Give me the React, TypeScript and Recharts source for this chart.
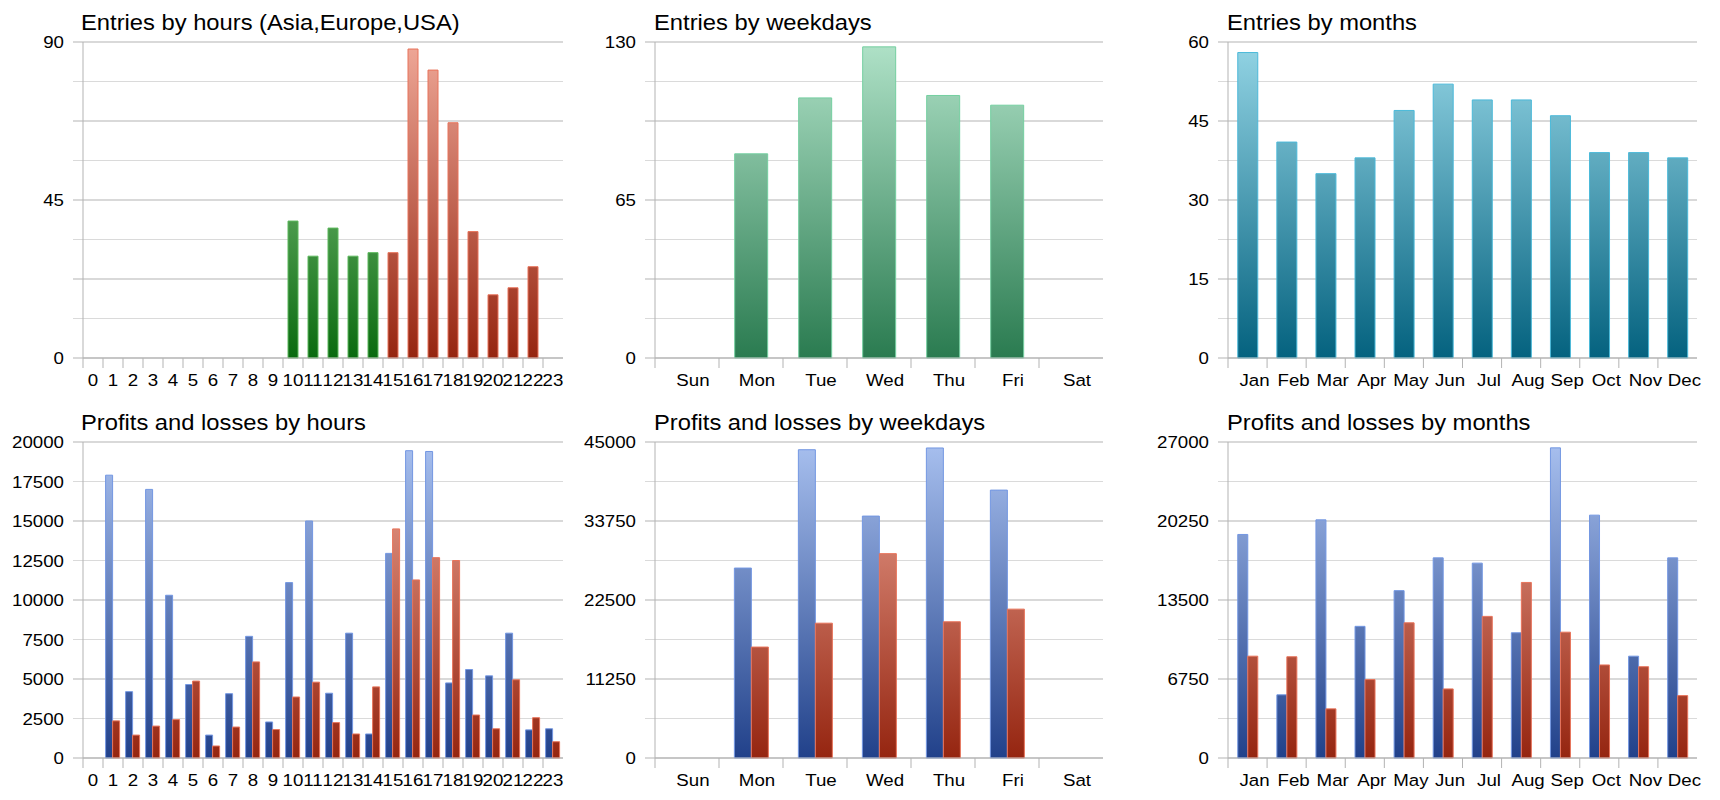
import React from 'react';
import { BarChart, Bar, XAxis, YAxis, CartesianGrid, Cell } from 'recharts';

// ---------- data ----------
const hours = ['0', '1', '2', '3', '4', '5', '6', '7', '8', '9', '10', '11', '12', '13', '14', '15', '16', '17', '18', '19', '20', '21', '22', '23'];
const hourRegion = ['Asia', 'Asia', 'Asia', 'Asia', 'Asia', 'Asia', 'Asia', 'Asia', 'Asia', 'Asia', 'Europe', 'Europe', 'Europe', 'Europe', 'Europe', 'USA', 'USA', 'USA', 'USA', 'USA', 'USA', 'USA', 'USA', 'USA'];
const entriesByHour = [0, 0, 0, 0, 0, 0, 0, 0, 0, 0, 39, 29, 37, 29, 30, 30, 88, 82, 67, 36, 18, 20, 26, 0];

const weekdays = ['Sun', 'Mon', 'Tue', 'Wed', 'Thu', 'Fri', 'Sat'];
const entriesByWeekday = [0, 84, 107, 128, 108, 104, 0];

const months = ['Jan', 'Feb', 'Mar', 'Apr', 'May', 'Jun', 'Jul', 'Aug', 'Sep', 'Oct', 'Nov', 'Dec'];
const entriesByMonth = [58, 41, 35, 38, 47, 52, 49, 49, 46, 39, 39, 38];

const profitsByHour = [0, 17900, 4200, 17000, 10300, 4650, 1450, 4070, 7700, 2280, 11100, 15000, 4100, 7900, 1520, 12950, 19450, 19400, 4750, 5600, 5200, 7900, 1780, 1850];
const lossesByHour = [0, 2350, 1450, 2020, 2430, 4870, 760, 1960, 6080, 1800, 3860, 4800, 2240, 1520, 4500, 14500, 11270, 12680, 12500, 2720, 1850, 4950, 2550, 1030];

const profitsByWeekday = [0, 27050, 43900, 34450, 44150, 38150, 0];
const lossesByWeekday = [0, 15800, 19200, 29100, 19400, 21200, 0];

const profitsByMonth = [19100, 5400, 20350, 11250, 14300, 17100, 16650, 10700, 26500, 20750, 8700, 17100];
const lossesByMonth = [8700, 8650, 4200, 6700, 11550, 5900, 12100, 15000, 10750, 7950, 7800, 5330];

// ---------- axis ticks ----------
const hourEntryTicks = [0, 11.25, 22.5, 33.75, 45, 56.25, 67.5, 78.75, 90];
const hourEntryLabels = [0, 45, 90];
const weekdayEntryTicks = [0, 16.25, 32.5, 48.75, 65, 81.25, 97.5, 113.75, 130];
const weekdayEntryLabels = [0, 65, 130];
const monthEntryTicks = [0, 7.5, 15, 22.5, 30, 37.5, 45, 52.5, 60];
const monthEntryLabels = [0, 15, 30, 45, 60];
const hourPLTicks = [0, 2500, 5000, 7500, 10000, 12500, 15000, 17500, 20000];
const hourPLLabels = [0, 2500, 5000, 7500, 10000, 12500, 15000, 17500, 20000];
const weekdayPLTicks = [0, 5625, 11250, 16875, 22500, 28125, 33750, 39375, 45000];
const weekdayPLLabels = [0, 11250, 22500, 33750, 45000];
const monthPLTicks = [0, 3375, 6750, 10125, 13500, 16875, 20250, 23625, 27000];
const monthPLLabels = [0, 6750, 13500, 20250, 27000];

// ---------- styling ----------
const FONT = '"Liberation Sans", Arial, Helvetica, sans-serif';
const SVG_H = 400;
const PLOT_TOP = 42;
const PLOT_H = 316;
const XAXIS_H = 30;
const YAXIS_W = 70;
const AXIS_COLOR = '#b3b3b3';
const MINOR_COLOR = '#dadada';
const TICK_FS = 17;
const TICK_SX = 1.1;
const TITLE_FS = 22;
const TITLE_SX = 1.08;

type Grad = { top: string; bottom: string; stroke: string };
const GREEN_H: Grad = { top: '#a0d99b', bottom: '#0a6a10', stroke: '#5cb85c' };
const RED: Grad = { top: '#efa898', bottom: '#952510', stroke: '#e8735a' };
const TEAL: Grad = { top: '#b0e2c8', bottom: '#2a7b50', stroke: '#74cfa0' };
const CYAN: Grad = { top: '#94d5e5', bottom: '#04627f', stroke: '#4bb9d9' };
const BLUE: Grad = { top: '#a8c0ef', bottom: '#21418a', stroke: '#7397e2' };
const regionStyle: Record<string, Grad> = { Asia: BLUE, Europe: GREEN_H, USA: RED };

const gridLine = (props: any) => {
  const { x1, x2, y1, y, height, key } = props;
  const top = typeof y === 'number' ? y : PLOT_TOP;
  const h = typeof height === 'number' ? height : PLOT_H;
  const k = Math.round((y1 - top) / (h / 8));
  const dark = k % 2 === 0;
  return (
    <line key={key} x1={x1 - 10} x2={x2} y1={y1} y2={y1} stroke={dark ? AXIS_COLOR : MINOR_COLOR} strokeWidth={1} />
  );
};

const makeXTick = (band: number, dx: number) => (props: any) => {
  const { x, payload } = props;
  const axisY = PLOT_TOP + PLOT_H;
  return (
    <g>
      <line x1={x - band / 2} x2={x - band / 2} y1={axisY} y2={axisY + 10} stroke={AXIS_COLOR} strokeWidth={1} />
      <text
        transform={`translate(${x + dx},${axisY + 28}) scale(${TICK_SX},1)`}
        textAnchor="middle"
        fontSize={TICK_FS}
        fill="#000"
        fontFamily={FONT}
      >
        {payload.value}
      </text>
    </g>
  );
};

const makeYTick = (plotLeft: number, labels: number[]) => (props: any) => {
  const { y, payload } = props;
  if (!labels.includes(payload.value)) return <g />;
  return (
    <text
      transform={`translate(${plotLeft - 19},${y}) scale(${TICK_SX},1)`}
      dy="0.36em"
      textAnchor="end"
      fontSize={TICK_FS}
      fill="#000"
      fontFamily={FONT}
    >
      {String(payload.value)}
    </text>
  );
};

type SeriesSpec = { key: string; values: number[]; style: Grad };

type PanelProps = {
  id: string;
  left: number;
  top: number;
  width: number;
  mL: number;
  mR: number;
  categories: string[];
  series: SeriesSpec[];
  cellStyles?: Grad[];
  yTicks: number[];
  yLabels: number[];
  gap: string;
  labelDx: number;
};

function gradDef(id: string, g: Grad) {
  return (
    <linearGradient key={id} id={id} gradientUnits="userSpaceOnUse" x1={0} y1={PLOT_TOP} x2={0} y2={PLOT_TOP + PLOT_H}>
      <stop offset="0%" stopColor={g.top} />
      <stop offset="100%" stopColor={g.bottom} />
    </linearGradient>
  );
}

function Panel(p: PanelProps) {
  const data = p.categories.map((c, i) => {
    const row: Record<string, any> = { cat: c };
    p.series.forEach((s) => {
      row[s.key] = s.values[i];
    });
    return row;
  });
  const plotLeft = p.mL + YAXIS_W;
  const plotW = p.width - p.mL - p.mR - YAXIS_W;
  const band = plotW / p.categories.length;
  const yMax = p.yTicks[p.yTicks.length - 1];
  const gradNames: Record<string, Grad> = {};
  p.series.forEach((s) => (gradNames[`${p.id}-${s.key}`] = s.style));
  if (p.cellStyles) {
    p.cellStyles.forEach((g, i) => (gradNames[`${p.id}-cell${i}`] = g));
  }
  return (
    <div style={{ position: 'absolute', left: p.left, top: p.top, width: p.width, height: SVG_H }}>
      <BarChart
        width={p.width}
        height={SVG_H}
        data={data}
        margin={{ top: PLOT_TOP, right: p.mR, left: p.mL, bottom: SVG_H - PLOT_TOP - PLOT_H - XAXIS_H }}
        barCategoryGap={p.gap}
        barGap={0}
      >
        <defs>{Object.keys(gradNames).map((k) => gradDef(k, gradNames[k]))}</defs>
        <CartesianGrid vertical={false} horizontal={gridLine} />
        <XAxis
          dataKey="cat"
          type="category"
          interval={0}
          tickLine={false}
          axisLine={{ stroke: AXIS_COLOR }}
          height={XAXIS_H}
          tickSize={10}
          tickMargin={0}
          tick={makeXTick(band, p.labelDx)}
        />
        <YAxis
          type="number"
          domain={[0, yMax]}
          ticks={p.yTicks}
          interval={0}
          width={YAXIS_W}
          tickLine={false}
          axisLine={{ stroke: AXIS_COLOR }}
          tick={makeYTick(plotLeft, p.yLabels)}
        />
        {p.series.map((s) => (
          <Bar
            key={s.key}
            dataKey={s.key}
            fill={`url(#${p.id}-${s.key})`}
            stroke={s.style.stroke}
            strokeWidth={1}
            isAnimationActive={false}
          >
            {p.cellStyles
              ? p.cellStyles.map((g, i) => <Cell key={i} fill={`url(#${p.id}-cell${i})`} stroke={g.stroke} />)
              : null}
          </Bar>
        ))}
      </BarChart>
    </div>
  );
}

const titles = [
  { text: 'Entries by hours (Asia,Europe,USA)', x: 81, y: 29.5 },
  { text: 'Entries by weekdays', x: 654, y: 29.5 },
  { text: 'Entries by months', x: 1227, y: 29.5 },
  { text: 'Profits and losses by hours', x: 81, y: 429.5 },
  { text: 'Profits and losses by weekdays', x: 654, y: 429.5 },
  { text: 'Profits and losses by months', x: 1227, y: 429.5 },
];

export default function App() {
  const hourCells = hourRegion.map((r) => regionStyle[r]);
  return (
    <div style={{ position: 'absolute', left: 0, top: 0, width: 1720, height: 800, background: '#fff', fontFamily: FONT }}>
      <Panel
        id="c1" left={0} top={0} width={575} mL={13} mR={12}
        categories={hours}
        series={[{ key: 'entries', values: entriesByHour, style: RED }]}
        cellStyles={hourCells}
        yTicks={hourEntryTicks} yLabels={hourEntryLabels} gap="25%" labelDx={0}
      />
      <Panel
        id="c2" left={575} top={0} width={575} mL={10} mR={47}
        categories={weekdays}
        series={[{ key: 'entries', values: entriesByWeekday, style: TEAL }]}
        yTicks={weekdayEntryTicks} yLabels={weekdayEntryLabels} gap="24.5%" labelDx={6}
      />
      <Panel
        id="c3" left={1150} top={0} width={570} mL={8} mR={23}
        categories={months}
        series={[{ key: 'entries', values: entriesByMonth, style: CYAN }]}
        yTicks={monthEntryTicks} yLabels={monthEntryLabels} gap="25%" labelDx={7}
      />
      <Panel
        id="c4" left={0} top={400} width={575} mL={13} mR={12}
        categories={hours}
        series={[
          { key: 'profit', values: profitsByHour, style: BLUE },
          { key: 'loss', values: lossesByHour, style: RED },
        ]}
        yTicks={hourPLTicks} yLabels={hourPLLabels} gap="13%" labelDx={0}
      />
      <Panel
        id="c5" left={575} top={400} width={575} mL={10} mR={47}
        categories={weekdays}
        series={[
          { key: 'profit', values: profitsByWeekday, style: BLUE },
          { key: 'loss', values: lossesByWeekday, style: RED },
        ]}
        yTicks={weekdayPLTicks} yLabels={weekdayPLLabels} gap="24%" labelDx={6}
      />
      <Panel
        id="c6" left={1150} top={400} width={570} mL={8} mR={23}
        categories={months}
        series={[
          { key: 'profit', values: profitsByMonth, style: BLUE },
          { key: 'loss', values: lossesByMonth, style: RED },
        ]}
        yTicks={monthPLTicks} yLabels={monthPLLabels} gap="25%" labelDx={7}
      />
      <svg width={1720} height={800} style={{ position: 'absolute', left: 0, top: 0, pointerEvents: 'none' }}>
        {titles.map((t) => (
          <text
            key={t.text}
            transform={`translate(${t.x},${t.y}) scale(${TITLE_SX},1)`}
            fontSize={TITLE_FS}
            fill="#000"
            fontFamily={FONT}
          >
            {t.text}
          </text>
        ))}
      </svg>
    </div>
  );
}
